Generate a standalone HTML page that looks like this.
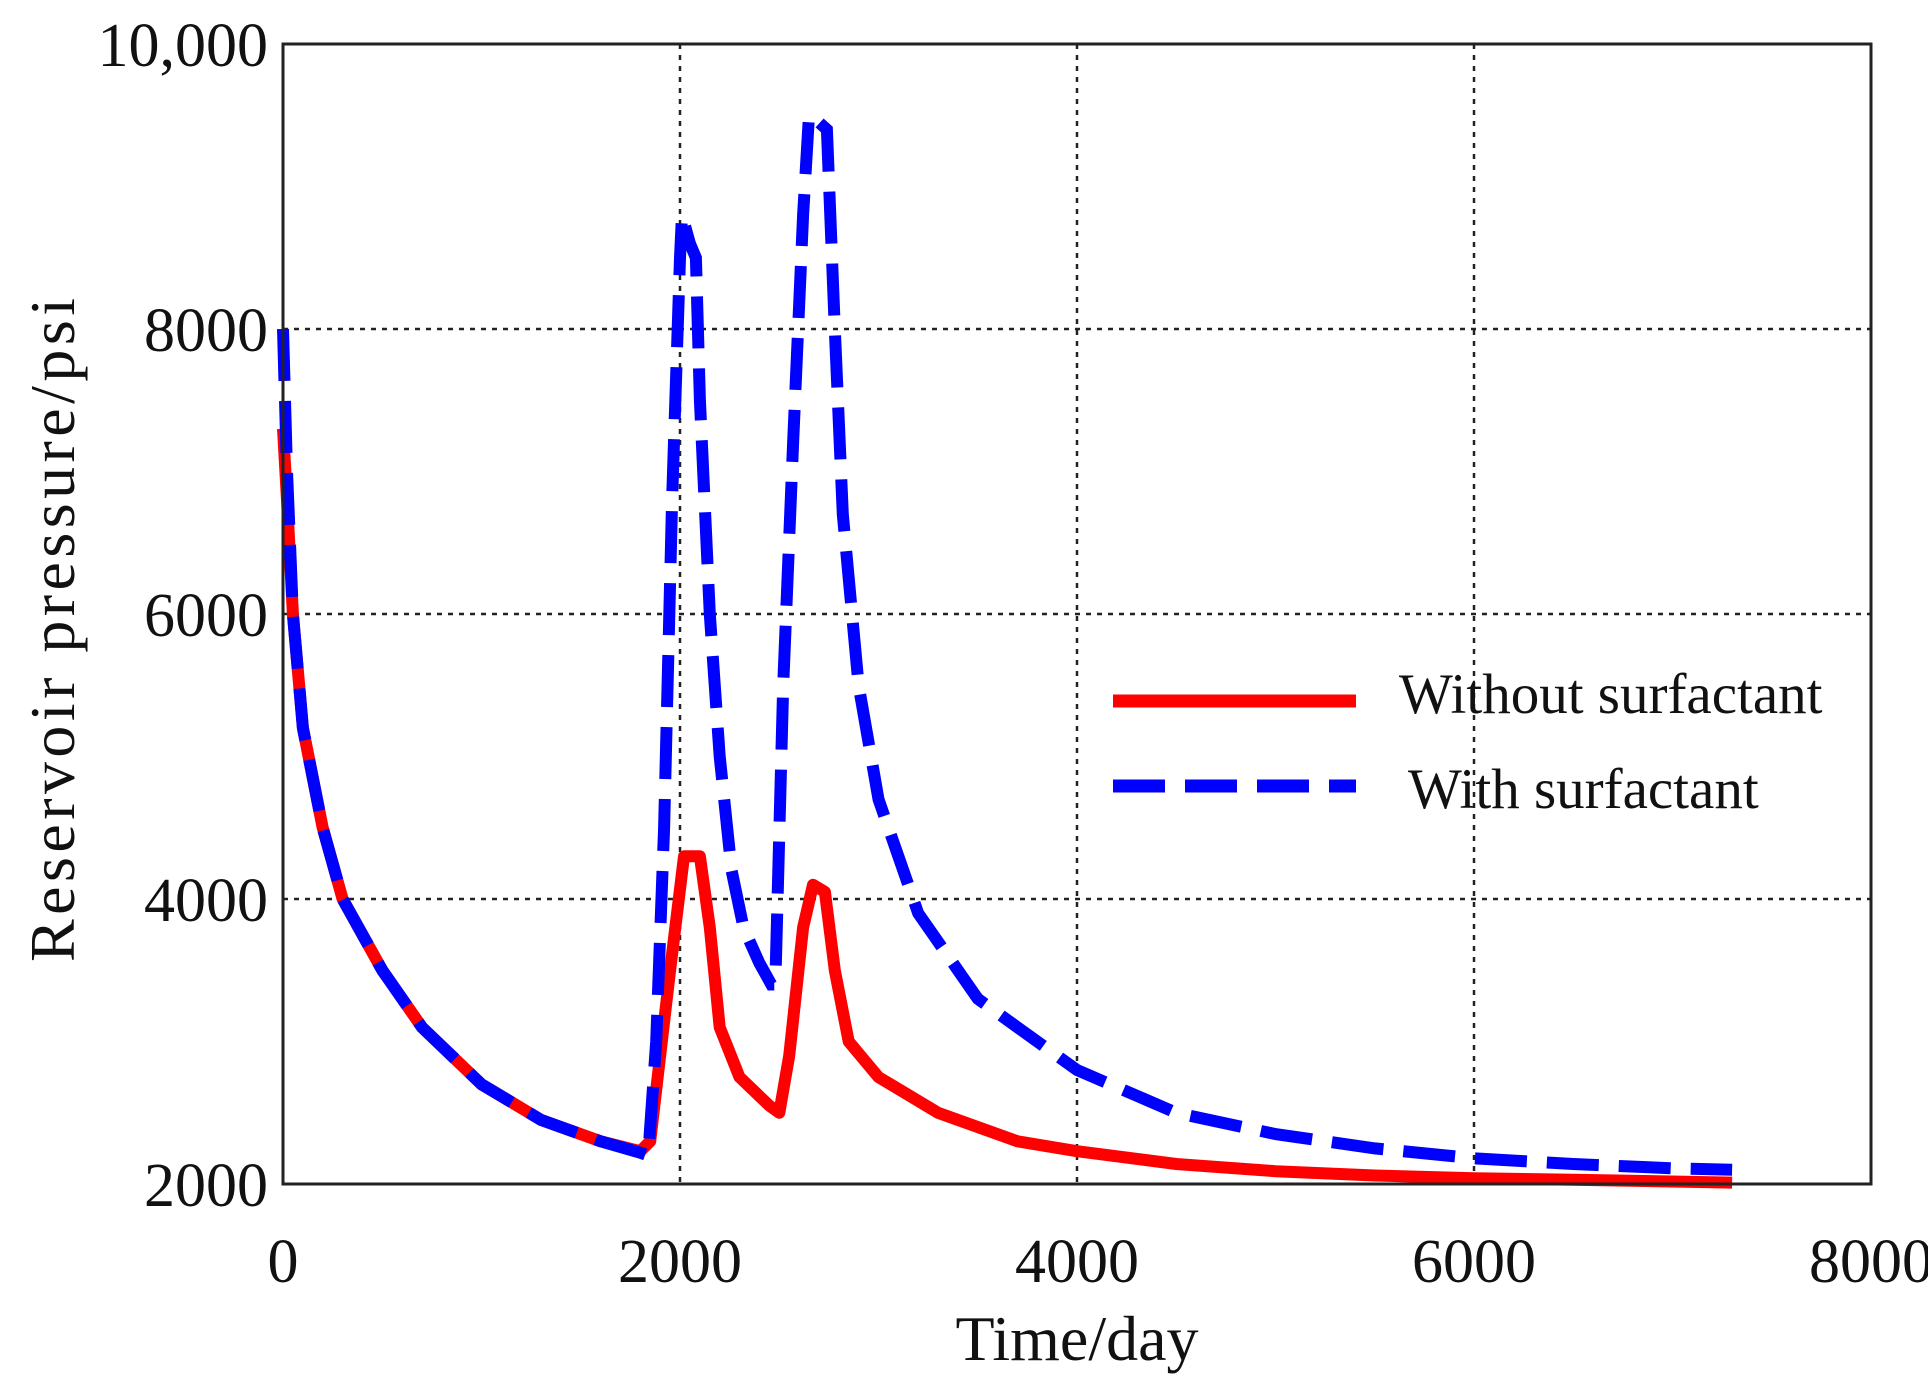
<!DOCTYPE html>
<html><head><meta charset="utf-8"><style>
body{margin:0;background:#fff}
svg{display:block}
text{font-family:"Liberation Serif",serif;fill:#111}
</style></head><body>
<svg id="chart" width="1928" height="1390" viewBox="0 0 1928 1390" xmlns="http://www.w3.org/2000/svg">
<g id="grid"></g>
<g id="series"></g>
<rect x="283" y="44" width="1588" height="1140" fill="none" stroke="#222" stroke-width="3"/>
<g id="ticks"></g>
<text x="1077" y="1360" font-size="64" text-anchor="middle">Time/day</text>
<text transform="translate(74,630) rotate(-90)" font-size="64" text-anchor="middle" textLength="664" lengthAdjust="spacing">Reservoir  pressure/psi</text>
<g>
<line x1="1113" y1="701" x2="1356" y2="701" stroke="#f00" stroke-width="13"/>
<text x="1399" y="713" font-size="57">Without  surfactant</text>
<line x1="1113" y1="786" x2="1356" y2="786" stroke="#00f" stroke-width="13" stroke-dasharray="52,20"/>
<text x="1408" y="808" font-size="57">With surfactant</text>
</g>
</svg>
<script>
const xTicks=[0,2000,4000,6000,8000];
const yTicks=[2000,4000,6000,8000,10000];
const yTickLabels=["2000","4000","6000","8000","10,000"];
const daysWithout=[0,20,50,100,200,300,500,700,1000,1300,1600,1800,1850,1950,2020,2100,2150,2200,2300,2450,2500,2550,2620,2670,2730,2780,2850,3000,3300,3700,4000,4500,5000,5500,6000,6500,7300];
const pressWithout=[7300,6800,6000,5200,4500,4000,3500,3100,2700,2450,2300,2230,2300,3500,4300,4300,3800,3100,2750,2550,2500,2900,3800,4100,4050,3500,3000,2750,2500,2300,2230,2140,2090,2060,2040,2030,2010];
const daysWith=[0,20,50,100,200,300,500,700,1000,1300,1600,1800,1840,1880,1920,1960,2000,2010,2050,2080,2100,2150,2200,2260,2320,2400,2460,2480,2520,2570,2620,2650,2700,2740,2780,2820,2900,3000,3200,3500,4000,4500,5000,5500,6000,6500,7000,7300];
const pressWith=[8000,7000,6000,5200,4500,4000,3500,3100,2700,2450,2300,2220,2200,3000,4500,6800,8500,8800,8600,8500,7500,6000,5000,4200,3800,3550,3400,3400,5500,7200,8800,9500,9450,9400,8000,6700,5500,4700,3900,3300,2800,2500,2350,2250,2180,2140,2110,2100];
const NS="http://www.w3.org/2000/svg";
const X=d=>283+d*(1588/8000);
const Y=p=>1184-(p-2000)*(1140/8000);
function mk(tag,attrs,parent){const e=document.createElementNS(NS,tag);for(const k in attrs)e.setAttribute(k,attrs[k]);parent.appendChild(e);return e;}
const grid=document.getElementById('grid'),ticks=document.getElementById('ticks'),series=document.getElementById('series');
xTicks.forEach((t,i)=>{
  if(i>0&&i<xTicks.length-1){const l=mk('line',{x1:X(t),x2:X(t),y1:44,y2:1184,stroke:'#222','stroke-width':2.5,'stroke-dasharray':'5,6'},grid);
  
  }
  const tx=mk('text',{x:X(t),y:1282,'font-size':62,'text-anchor':'middle'},ticks);tx.textContent=t;
  
  
});
yTicks.forEach((t,i)=>{
  if(i>0&&i<yTicks.length-1){const l=mk('line',{x1:283,x2:1871,y1:Y(t),y2:Y(t),stroke:'#222','stroke-width':2.5,'stroke-dasharray':'5,6'},grid);
  
  }
  const tx=mk('text',{x:268,y:Y(t)+22,'font-size':62,'text-anchor':'end'},ticks);tx.textContent=yTickLabels[i];
  
  
});
const pts=(ds,ps)=>ds.map((d,i)=>X(d).toFixed(1)+','+Y(ps[i]).toFixed(1)).join(' ');
const r=mk('polyline',{points:pts(daysWithout,pressWithout),fill:'none',stroke:'#f00','stroke-width':12,'stroke-linejoin':'round'},series);


const b=mk('polyline',{points:pts(daysWith,pressWith),fill:'none',stroke:'#00f','stroke-width':12,'stroke-dasharray':'52,20'},series);


</script>
</body></html>
